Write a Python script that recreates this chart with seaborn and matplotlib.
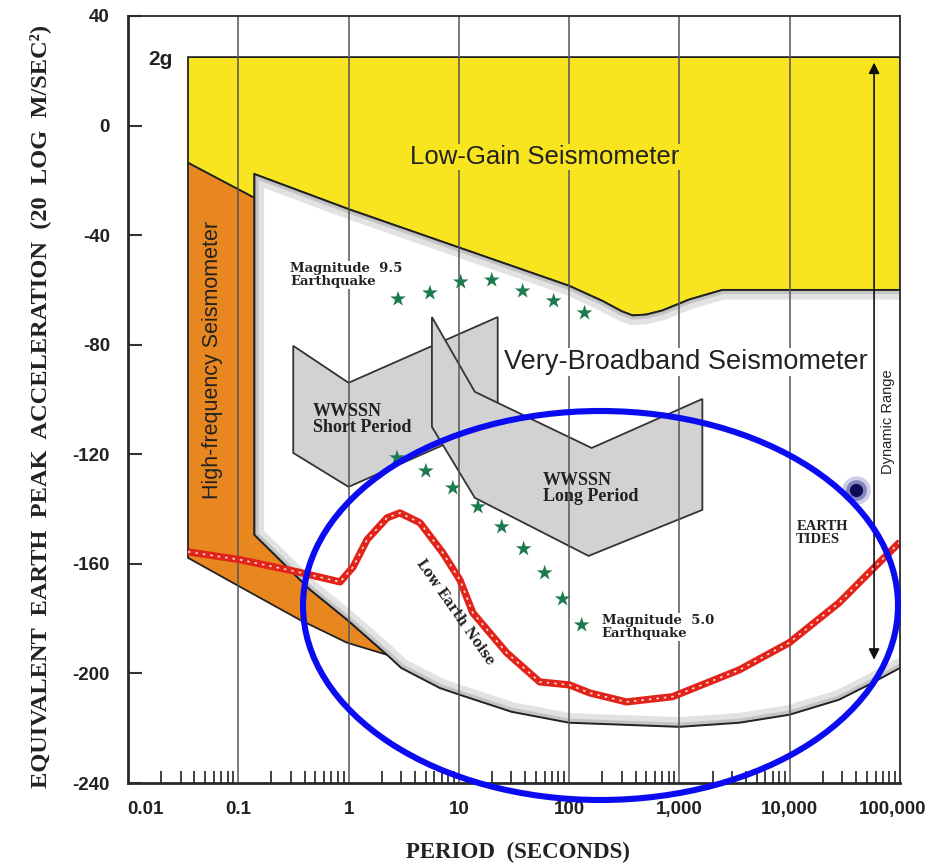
import numpy as np
import matplotlib
matplotlib.use("Agg")
import matplotlib.pyplot as plt
import seaborn as sns
from matplotlib.patches import Polygon, Ellipse
from matplotlib.transforms import ScaledTranslation
from matplotlib.ticker import LogLocator, NullFormatter

# ---------------- data (period in seconds, acceleration in 20 log m/s^2) ----------------
x_ticks = [0.01, 0.1, 1, 10, 100, 1000, 10000, 100000]
x_tick_labels = ["0.01", "0.1", "1", "10", "100", "1,000", "10,000", "100,000"]
y_ticks = [40, 0, -40, -80, -120, -160, -200, -240]
y_tick_labels = ["40", "0", "-40", "-80", "-120", "-160", "-200", "-240"]

low_gain_top = 25.0          # 2g
low_gain_left = 0.035

hf_period = [0.035, 0.14, 0.14, 0.45, 0.97, 2.23, 0.97, 0.36, 0.104, 0.035]
hf_accel = [-13.6, -26.4, -149.4, -169.5, -180.4, -193.2, -188.8, -180.4, -168.4, -157.8]

vbb_top_period = [0.14, 1, 10, 100, 200, 300, 376, 500, 700, 1230, 2450, 100000]
vbb_top_accel = [-17.7, -30.5, -44.5, -58.5, -64.0, -67.8, -69.3, -69.0, -67.5, -63.5, -60.0, -60.0]
vbb_bottom_period = [0.14, 0.45, 0.97, 2.23, 3.0, 6.7, 10.2, 30, 100, 1000, 3490,
                     9890, 28000, 50000, 100000]
vbb_bottom_accel = [-149.4, -169.5, -180.4, -193.2, -198.0, -205.3, -207.8, -214.0, -218.0,
                    -219.5, -218.0, -215.1, -209.6, -204.5, -198.0]

sp_period = [0.315, 1.0, 22.5, 22.5, 1.0, 0.315]
sp_accel = [-80.4, -93.9, -69.9, -107.8, -131.9, -119.5]

lp_period = [5.7, 13.96, 160, 1614, 1614, 150, 13.96, 5.7]
lp_accel = [-69.9, -97.2, -117.7, -99.8, -140.3, -157.1, -135.9, -110.0]

noise_period = [0.035, 0.104, 0.342, 0.838, 1.10, 1.47, 2.23, 2.92, 4.44, 7.16, 10.2, 13.4,
                27.2, 54.1, 101, 153, 331, 865, 3490, 9890, 28050, 68700, 100000]
noise_accel = [-155.6, -158.5, -162.9, -166.6, -161.1, -151.2, -143.2, -141.4, -145.0, -156.0,
               -165.8, -177.9, -192.5, -203.1, -204.2, -207.1, -210.4, -208.5, -198.7, -188.8,
               -174.2, -158.5, -152.0]

m95_period = [2.81, 5.47, 10.4, 19.9, 37.9, 72.4, 138]
m95_accel = [-63.3, -61.1, -57.1, -56.4, -60.4, -64.0, -68.4]

m50_period = [2.75, 5.02, 8.83, 14.9, 24.5, 38.7, 60.0, 87.3, 130]
m50_accel = [-121.3, -126.1, -132.3, -139.2, -146.5, -154.5, -163.3, -172.8, -182.3]

tides_period = [40000]
tides_accel = [-133.0]

range_period = 58200
range_top = 23.0
range_bottom = -195.0

# ---------------- style ----------------
sns.set_theme(style="white")
plt.rcParams["font.family"] = ["Liberation Sans", "DejaVu Sans"]
plt.rcParams["axes.unicode_minus"] = False

YELLOW = "#f8e51f"
ORANGE = "#e8871f"
GRAYFILL = "#d2d2d2"
EDGE = "#222222"
RED = "#e2231a"
STAR = "#1d7a4e"
BLUE = "#0b0bf2"

fig = plt.figure(figsize=(9.33, 8.68), dpi=100)
ax = fig.add_axes([128 / 933, 1 - 783 / 868, 772 / 933, 767 / 868])
ax.set_xscale("log")
ax.set_xlim(0.01, 1e5)
ax.set_ylim(-240, 40)
ax.set_facecolor("white")

# Low-gain (yellow) region
yx = [low_gain_left, 1e5] + vbb_top_period[::-1] + [0.14, low_gain_left]
yy = [low_gain_top, low_gain_top] + vbb_top_accel[::-1] + [hf_accel[1], hf_accel[0]]
ax.fill(yx, yy, facecolor=YELLOW, edgecolor=EDGE, lw=1.3, zorder=1)

# High-frequency (orange) region
ax.fill(hf_period, hf_accel, facecolor=ORANGE, edgecolor=EDGE, lw=1.3, zorder=1.5)

# Very-broadband region
vx = vbb_top_period + vbb_bottom_period[::-1]
vy = vbb_top_accel + vbb_bottom_accel[::-1]
vbb_patch = Polygon(np.column_stack([vx, vy]), closed=True, facecolor="white",
                    edgecolor="none", zorder=2)
ax.add_patch(vbb_patch)
bx = vbb_bottom_period[::-1] + vbb_top_period
by = vbb_bottom_accel[::-1] + vbb_top_accel
l1, = ax.plot(bx, by, color="#e2e2e2", lw=14, solid_joinstyle="round", zorder=2.1)
l1.set_clip_path(vbb_patch)
l2, = ax.plot(bx, by, color="#c4c4c4", lw=6, solid_joinstyle="round", zorder=2.2)
l2.set_clip_path(vbb_patch)
ax.plot(bx, by, color=EDGE, lw=1.4, zorder=2.3)

# WWSSN polygons
ax.fill(sp_period, sp_accel, facecolor=GRAYFILL, edgecolor="#333333", lw=1.3, zorder=3)
ax.fill(lp_period, lp_accel, facecolor=GRAYFILL, edgecolor="#333333", lw=1.3, zorder=3.1)

# vertical grid lines
ax.vlines(x_ticks[1:-1], -240, 40, color="#555555", lw=1.1, zorder=4)

# Low earth noise (rope-like red line)
sns.lineplot(x=noise_period, y=noise_accel, ax=ax, sort=False, estimator=None,
             color=RED, lw=5.2, zorder=6, solid_capstyle="butt", solid_joinstyle="round")
ax.plot(noise_period, noise_accel, color="white", lw=1.2, alpha=0.85,
        dashes=(1.5, 3.0), zorder=6.1)

# earthquake stars
sns.scatterplot(x=m95_period, y=m95_accel, ax=ax, marker="*", s=140, color=STAR,
                edgecolor="none", zorder=6)
sns.scatterplot(x=m50_period, y=m50_accel, ax=ax, marker="*", s=140, color=STAR,
                edgecolor="none", zorder=6)

# earth tides dot with glow
ax.scatter(tides_period, tides_accel, s=420, color="#3a3aa0", alpha=0.25, lw=0, zorder=6)
ax.scatter(tides_period, tides_accel, s=220, color="#2a2a90", alpha=0.45, lw=0, zorder=6)
ax.scatter(tides_period, tides_accel, s=90, color="#0d0d55", lw=0, zorder=6)

# dynamic range arrow
ax.annotate("", xy=(range_period, range_top), xytext=(range_period, range_bottom),
            arrowprops=dict(arrowstyle="<|-|>", color="#111111", lw=1.2,
                            mutation_scale=16, shrinkA=0, shrinkB=0), zorder=6)

# ---------------- texts ----------------
ax.text(0.0197, 24, "2g", ha="center", va="center", fontsize=15, fontweight="bold",
        color="#222222", zorder=7)
ax.text(60, -11.5, "Low-Gain Seismometer", ha="center", va="center", fontsize=18.5,
        color="#222222", zorder=7,
        bbox=dict(fc=YELLOW, ec="none", pad=1))
ax.text(0.058, -85.5, "High-frequency Seismometer", rotation=90, ha="center", va="center",
        fontsize=15.5, color="#222222", zorder=7)
ax.text(0.296, -49.8, "Magnitude  9.5\nEarthquake", ha="left", va="top",
        family=["DejaVu Serif"], fontweight="bold", fontsize=9.5, linespacing=1.05,
        color="#222222", zorder=7, bbox=dict(fc="white", ec="none", pad=0.5))
ax.text(1156, -86.3, "Very-Broadband Seismometer", ha="center", va="center", fontsize=19.5,
        color="#222222", zorder=7, bbox=dict(fc="white", ec="none", pad=1))
ax.text(0.477, -107.4, "WWSSN\nShort Period", ha="left", va="center",
        family=["Liberation Serif"], fontweight="bold", fontsize=13, linespacing=0.95,
        color="#222222", zorder=7)
ax.text(57.5, -132.6, "WWSSN\nLong Period", ha="left", va="center",
        family=["Liberation Serif"], fontweight="bold", fontsize=13, linespacing=0.95,
        color="#222222", zorder=7)
ax.text(9.2, -177.5, "Low Earth Noise", rotation=-55, rotation_mode="anchor",
        ha="center", va="center", family=["DejaVu Serif"], fontweight="bold",
        fontsize=9.8, color="#222222", zorder=7)
ax.text(197, -183, "Magnitude  5.0\nEarthquake", ha="left", va="center",
        family=["DejaVu Serif"], fontweight="bold", fontsize=9.5, linespacing=1.05,
        color="#222222", zorder=7, bbox=dict(fc="white", ec="none", pad=0.5))
ax.text(11460, -148.7, "EARTH\nTIDES", ha="left", va="center",
        family=["Liberation Serif"], fontweight="bold", fontsize=10.5, linespacing=1.0,
        color="#222222", zorder=7)
ax.text(77800, -108.2, "Dynamic Range", rotation=90, ha="center", va="center",
        fontsize=10.5, color="#222222", zorder=7)

# ---------------- axes ----------------
ax.set_xticks(x_ticks)
ax.set_xticklabels(x_tick_labels, fontweight="bold", fontsize=13.5, color="#222222")
ax.xaxis.set_minor_locator(LogLocator(base=10, subs=np.arange(2, 10), numticks=20))
ax.xaxis.set_minor_formatter(NullFormatter())
ax.set_yticks(y_ticks)
ax.set_yticklabels(y_tick_labels, fontweight="bold", fontsize=13.5, color="#222222")
ax.tick_params(axis="x", which="major", direction="in", length=0, pad=13)
ax.tick_params(axis="x", which="minor", direction="in", length=9, width=1.3,
               color="#333333", bottom=True)
ax.tick_params(axis="y", which="major", direction="in", length=10, width=1.5,
               pad=13, color="#333333", left=True)

labels = ax.get_xticklabels()
labels[0].set_transform(labels[0].get_transform() +
                        ScaledTranslation(0.17, 0, fig.dpi_scale_trans))
labels[-1].set_transform(labels[-1].get_transform() +
                         ScaledTranslation(-0.07, 0, fig.dpi_scale_trans))

for side, lw in [("left", 2.0), ("bottom", 2.0), ("top", 1.3), ("right", 1.3)]:
    ax.spines[side].set_visible(True)
    ax.spines[side].set_linewidth(lw)
    ax.spines[side].set_color("#2a2a2a")
    ax.spines[side].set_zorder(8)
ax.grid(False)

fig.text(40 / 933, 1 - 406 / 868,
         "EQUIVALENT  EARTH  PEAK  ACCELERATION  (20  LOG  M/SEC\u00b2)",
         rotation=90, ha="center", va="center", family=["Liberation Serif"],
         fontweight="bold", fontsize=17.6, color="#222222")
fig.text(518 / 933, 1 - 852 / 868, "PERIOD  (SECONDS)", ha="center", va="center",
         family=["Liberation Serif"], fontweight="bold", fontsize=16.5, color="#222222")

# blue annotation ellipse
fig.add_artist(Ellipse((600.5 / 933, 1 - 605.5 / 868), 595 / 933, 389 / 868,
                       transform=fig.transFigure, fill=False, edgecolor=BLUE,
                       lw=4.4, zorder=20))

fig.savefig("out.png", dpi=100)
